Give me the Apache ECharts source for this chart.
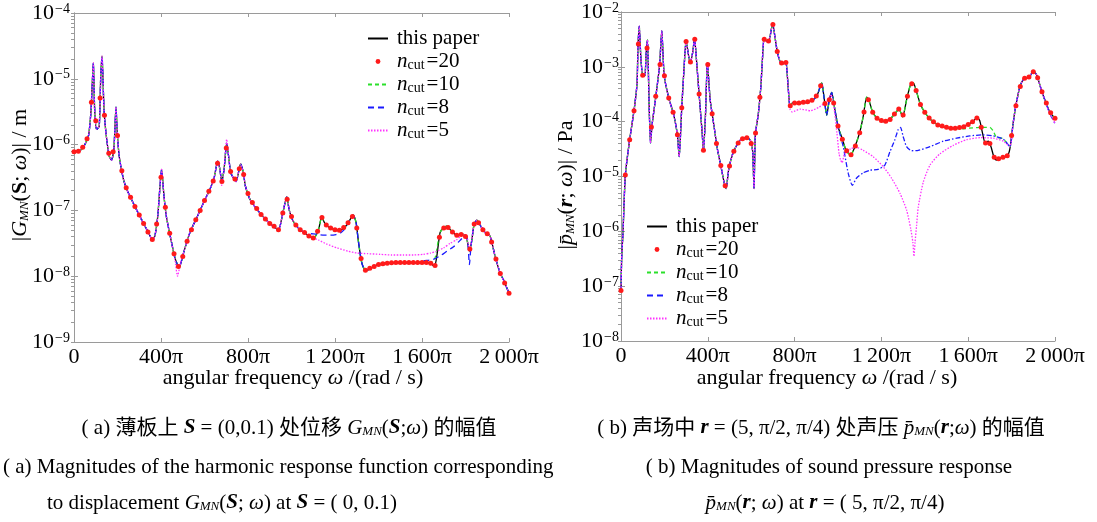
<!DOCTYPE html>
<html lang="zh">

<head>
    <meta charset="UTF-8">
    <title>G_MN and p_MN magnitudes</title>
    <style>
        html,
        body {
            margin: 0;
            padding: 0;
            background: #fff;
        }

        .box {
            width: 1097px;
            height: 522px;
        }
    </style>
</head>

<body>
    <div class="box"></div>

    <script src="https://cdn.jsdelivr.net/npm/echarts@6/dist/echarts.min.js"></script>
    <script>
        // x in units of pi (omega / pi)
        let xTicks = [0, 400, 800, 1200, 1600, 2000];
        let xTickLabels = ["0", "400π", "800π", "1\u2009200π", "1\u2009600π", "2\u2009000π"];
        let yTicksA = [1e-9, 1e-8, 1e-7, 1e-6, 1e-5, 1e-4];
        let yTicksB = [1e-8, 1e-7, 1e-6, 1e-5, 1e-4, 1e-3, 1e-2];
        let legendNames = ["this paper", "n=20", "n=10", "n=8", "n=5"];

        // (a) |G_MN(S;w)|, this paper
        let blackA = [
            [0, 7.8e-7], [27, 8.1e-7], [46, 9.5e-7], [67, 1.38e-6], [78, 3.2e-6], [83, 7.2e-6],
            [89, 1.74e-5], [95, 3.4e-6], [104, 1.7e-6], [116, 1.9e-6], [123, 1.1e-5], [129, 2.2e-5],
            [138, 3.4e-6], [147, 1.5e-6], [162, 6.6e-7], [173, 5.8e-7], [184, 9.3e-7], [193, 3.7e-6],
            [199, 1.5e-6], [208, 6.6e-7], [227, 3.0e-7], [245, 2.0e-7], [265, 1.45e-7], [303, 8.1e-8],
            [342, 4.6e-8], [360, 3.6e-8], [372, 4.1e-8], [385, 8.1e-8], [403, 4.2e-7], [414, 1.6e-7],
            [426, 7.6e-8], [449, 3.2e-8], [464, 1.9e-8], [483, 1.35e-8], [506, 2.4e-8], [533, 4.6e-8],
            [567, 8.1e-8], [602, 1.45e-7], [625, 2.1e-7], [644, 3.1e-7], [661, 5.6e-7], [671, 4.2e-7],
            [679, 2.7e-7], [690, 4.2e-7], [702, 1.05e-6], [711, 6.6e-7], [721, 3.7e-7], [745, 2.75e-7],
            [766, 5.1e-7], [779, 3.7e-7], [788, 2.35e-7], [810, 1.45e-7], [855, 9.1e-8], [901, 6.3e-8],
            [940, 5.1e-8], [960, 9.1e-8], [978, 1.6e-7], [990, 1.0e-7], [1008, 6.8e-8], [1039, 5.1e-8],
            [1070, 4.3e-8], [1103, 3.8e-8], [1124, 5.1e-8], [1139, 7.9e-8], [1154, 6.3e-8], [1185, 5.2e-8],
            [1223, 5.0e-8], [1254, 6.0e-8], [1284, 8.5e-8], [1297, 6.5e-8], [1307, 3.5e-8], [1323, 1.6e-8],
            [1341, 1.2e-8], [1361, 1.3e-8], [1407, 1.55e-8], [1484, 1.6e-8], [1576, 1.6e-8], [1637, 1.6e-8],
            [1657, 1.4e-8], [1668, 2.0e-8], [1683, 4.6e-8], [1698, 5.4e-8], [1714, 5.75e-8], [1737, 4.8e-8],
            [1760, 4.2e-8], [1790, 4.3e-8], [1805, 3.8e-8], [1818, 2.4e-8], [1829, 3.5e-8], [1839, 6.0e-8],
            [1852, 7.1e-8], [1867, 6.0e-8], [1890, 4.6e-8], [1913, 4.1e-8], [1936, 2.0e-8], [1959, 1.12e-8],
            [1974, 8.9e-9], [2000, 5.5e-9]
        ];
        // (a) n_cut = 20 markers, one every 20π from 0 to 2000π
        let dotsA = [
            7.8e-7, 7.9e-7, 9.1e-7, 1.23e-6, 4.4e-6, 2.3e-6, 5.1e-6, 2.8e-6, 7.4e-7, 7.8e-7,
            1.38e-6, 4.0e-7, 2.2e-7, 1.58e-7, 1.15e-7, 8.5e-8, 6.3e-8, 4.7e-8, 3.6e-8, 6.2e-8,
            3.2e-7, 1.12e-7, 4.5e-8, 2.2e-8, 1.4e-8, 2.0e-8, 3.4e-8, 5.1e-8, 7.2e-8, 1.0e-7,
            1.41e-7, 1.95e-7, 2.8e-7, 5.2e-7, 2.75e-7, 8.9e-7, 3.9e-7, 3.0e-7, 4.3e-7, 3.5e-7,
            1.8e-7, 1.32e-7, 1.07e-7, 8.7e-8, 7.4e-8, 6.3e-8, 5.75e-8, 5.1e-8, 9.1e-8, 1.48e-7,
            8.1e-8, 6.0e-8, 5.1e-8, 4.6e-8, 4.1e-8, 3.8e-8, 4.8e-8, 7.8e-8, 6.0e-8, 5.4e-8,
            5.1e-8, 5.0e-8, 5.5e-8, 6.5e-8, 8.1e-8, 5.4e-8, 1.86e-8, 1.23e-8, 1.32e-8, 1.41e-8,
            1.51e-8, 1.55e-8, 1.58e-8, 1.6e-8, 1.62e-8, 1.62e-8, 1.62e-8, 1.62e-8, 1.62e-8, 1.62e-8,
            1.62e-8, 1.62e-8, 1.58e-8, 1.45e-8, 3.9e-8, 5.4e-8, 5.5e-8, 4.7e-8, 4.2e-8, 4.3e-8,
            4.0e-8, 2.6e-8, 6.2e-8, 6.5e-8, 5.1e-8, 4.4e-8, 3.3e-8, 1.82e-8, 1.1e-8, 7.9e-9,
            5.5e-9
        ];
        // (a) pieces where the truncated curves leave the reference curve
        let greenA = [
            [[1637, 1.6e-8], [1660, 1.9e-8], [1675, 3.5e-8], [1683, 4.6e-8]]
        ];
        let blueA = [
            [[1039, 5.1e-8], [1070, 4.5e-8], [1100, 4.4e-8], [1124, 4.3e-8], [1150, 4.2e-8], [1177, 4.2e-8],
            [1205, 4.3e-8], [1223, 4.5e-8], [1240, 5.0e-8], [1254, 6.0e-8]],
            [[1576, 1.6e-8], [1606, 1.7e-8], [1652, 1.8e-8], [1690, 2.1e-8], [1714, 2.4e-8], [1745, 2.8e-8],
            [1775, 3.5e-8], [1800, 4.2e-8], [1810, 3.5e-8], [1818, 1.5e-8], [1825, 2.8e-8], [1839, 6.0e-8]]
        ];
        let magentaA = [
            [[449, 3.2e-8], [464, 1.8e-8], [476, 1.0e-8], [490, 1.6e-8], [506, 2.4e-8]],
            [[671, 4.2e-7], [679, 2.4e-7], [690, 4.4e-7], [702, 1.2e-6], [711, 6.6e-7]],
            [[1103, 3.8e-8], [1124, 3.55e-8], [1160, 3.1e-8], [1208, 2.7e-8], [1260, 2.4e-8], [1300, 2.25e-8],
            [1350, 2.2e-8], [1407, 2.15e-8], [1460, 2.1e-8], [1514, 2.1e-8], [1560, 2.1e-8], [1606, 2.15e-8],
            [1640, 2.25e-8], [1668, 2.4e-8], [1700, 2.7e-8], [1729, 3.15e-8], [1760, 3.6e-8], [1790, 4.3e-8],
            [1805, 3.9e-8], [1818, 2.6e-8], [1829, 3.5e-8], [1839, 6.0e-8]]
        ];

        // (b) |p_MN(r;w)|, this paper
        let blackB = [
            [0, 8.3e-8], [3, 3.2e-7], [9, 9.1e-7], [20, 1.07e-5], [40, 4.7e-5], [61, 1.7e-4], [74, 5.0e-4],
            [78, 2.2e-3], [84, 5.5e-3], [92, 1.35e-3], [101, 6.9e-4], [110, 6.9e-4], [116, 1.78e-3],
            [122, 3.1e-3], [129, 2.5e-4], [136, 4.1e-5], [144, 9.3e-5], [161, 2.95e-4], [178, 1.1e-3],
            [188, 4.5e-3], [199, 6.9e-4], [221, 2.6e-4], [242, 1.4e-4], [260, 5.75e-5], [268, 2.3e-5],
            [280, 1.8e-4], [291, 1.02e-3], [300, 2.9e-3], [319, 1.17e-3], [331, 1.9e-3], [339, 3.3e-3],
            [350, 1.02e-3], [362, 2.5e-4], [374, 6.2e-5], [380, 3.0e-5], [389, 1.23e-4], [398, 1.17e-3],
            [411, 2.5e-4], [429, 8.1e-5], [444, 3.2e-5], [461, 1.5e-5], [475, 7.9e-6], [484, 6.0e-6],
            [497, 1.4e-5], [515, 2.6e-5], [541, 4.2e-5], [564, 5.1e-5], [583, 5.1e-5], [598, 4.4e-5],
            [607, 2.8e-5], [613, 6.0e-6], [619, 5.75e-5], [633, 1.4e-4], [644, 4.1e-4], [650, 1.02e-3],
            [659, 3.2e-3], [668, 3.0e-3], [681, 2.95e-3], [687, 3.6e-3], [699, 6.2e-3], [709, 3.6e-3],
            [721, 1.82e-3], [736, 1.17e-3], [748, 1.15e-3], [760, 1.2e-3], [770, 4.4e-4], [779, 1.9e-4],
            [791, 2.2e-4], [817, 2.2e-4], [856, 2.25e-4], [886, 2.5e-4], [905, 3.1e-4], [925, 5.1e-4],
            [935, 2.9e-4], [948, 1.32e-4], [960, 2.5e-4], [971, 3.4e-4], [986, 1.62e-4], [1001, 7.9e-5],
            [1021, 4.7e-5], [1037, 3.0e-5], [1058, 2.45e-5], [1078, 3.5e-5], [1101, 6.6e-5], [1116, 1.23e-4],
            [1132, 2.8e-4], [1144, 2.35e-4], [1160, 1.48e-4], [1181, 1.15e-4], [1209, 1.0e-4], [1239, 1.1e-4],
            [1262, 1.4e-4], [1281, 1.7e-4], [1298, 1.23e-4], [1316, 2.5e-4], [1334, 4.7e-4], [1347, 5.1e-4],
            [1362, 3.5e-4], [1380, 2.05e-4], [1405, 1.38e-4], [1431, 1.05e-4], [1462, 8.7e-5], [1492, 7.9e-5],
            [1531, 7.6e-5], [1569, 7.9e-5], [1604, 9.1e-5], [1626, 1.05e-4], [1641, 1.2e-4], [1653, 1.05e-4],
            [1666, 6.2e-5], [1678, 4.1e-5], [1692, 4.4e-5], [1705, 3.5e-5], [1718, 2.3e-5], [1730, 2.0e-5],
            [1753, 2.2e-5], [1779, 2.35e-5], [1792, 3.2e-5], [1807, 9.3e-5], [1819, 1.9e-4], [1838, 4.3e-4],
            [1856, 6.0e-4], [1880, 6.5e-4], [1902, 8.3e-4], [1917, 6.9e-4], [1933, 4.3e-4], [1953, 2.5e-4],
            [1976, 1.5e-4], [2000, 1.15e-4]
        ];
        // (b) n_cut = 20 markers, one every 20π
        let dotsB = [
            8.3e-8, 1.07e-5, 4.7e-5, 1.58e-4, 2.6e-3, 7.0e-4, 2.2e-3, 8.0e-5, 2.9e-4, 1.1e-3,
            6.9e-4, 2.7e-4, 1.48e-4, 5.75e-5, 1.8e-4, 2.9e-3, 1.23e-3, 3.2e-3, 3.2e-4, 3.0e-5,
            1.1e-3, 1.4e-4, 4.0e-5, 1.58e-5, 6.8e-6, 1.55e-5, 2.9e-5, 4.1e-5, 4.9e-5, 5.1e-5,
            4.0e-5, 6.2e-5, 2.8e-4, 3.2e-3, 2.95e-3, 5.9e-3, 1.9e-3, 1.17e-3, 1.2e-3, 1.95e-4,
            2.2e-4, 2.2e-4, 2.25e-4, 2.3e-4, 2.45e-4, 2.95e-4, 4.5e-4, 2.15e-4, 2.5e-4, 2.2e-4,
            8.3e-5, 4.8e-5, 2.95e-5, 2.5e-5, 3.6e-5, 6.3e-5, 1.5e-4, 2.5e-4, 1.48e-4, 1.15e-4,
            1.05e-4, 1.02e-4, 1.1e-4, 1.38e-4, 1.7e-4, 1.32e-4, 2.9e-4, 4.9e-4, 3.7e-4, 2.05e-4,
            1.48e-4, 1.17e-4, 1.0e-4, 8.7e-5, 8.3e-5, 7.9e-5, 7.6e-5, 7.6e-5, 7.8e-5, 8.1e-5,
            8.9e-5, 1.0e-4, 1.17e-4, 7.9e-5, 4.1e-5, 4.0e-5, 2.25e-5, 2.1e-5, 2.25e-5, 2.4e-5,
            5.6e-5, 1.95e-4, 4.4e-4, 6.2e-4, 6.5e-4, 8.1e-4, 6.3e-4, 3.5e-4, 2.2e-4, 1.45e-4,
            1.15e-4
        ];
        let greenB = [
            [[1531, 7.6e-5], [1569, 7.4e-5], [1604, 7.6e-5], [1641, 7.8e-5], [1680, 7.9e-5], [1700, 7.9e-5],
            [1715, 6.8e-5], [1730, 5.2e-5], [1760, 4.9e-5], [1792, 3.5e-5], [1807, 9.3e-5]]
        ];
        let blueB = [
            [[1001, 7.9e-5], [1024, 3.5e-5], [1047, 1.15e-5], [1066, 6.9e-6], [1085, 9.3e-6], [1116, 1.17e-5],
            [1147, 1.3e-5], [1185, 1.35e-5], [1216, 1.62e-5], [1239, 2.8e-5], [1262, 4.7e-5], [1277, 7.1e-5],
            [1288, 7.9e-5], [1300, 5.4e-5], [1316, 3.5e-5], [1339, 2.95e-5], [1370, 3.0e-5], [1424, 3.5e-5],
            [1485, 4.4e-5], [1547, 5.0e-5], [1608, 5.5e-5], [1670, 5.75e-5], [1716, 5.5e-5], [1762, 4.8e-5],
            [1792, 3.5e-5], [1807, 9.3e-5]],
            [[1953, 2.5e-4], [1976, 1.4e-4], [2000, 9.3e-5]]
        ];
        let magentaB = [
            [[770, 4.4e-4], [779, 1.7e-4], [789, 1.5e-4], [827, 1.7e-4], [873, 1.58e-4], [911, 1.82e-4],
            [949, 2.35e-4], [967, 3.1e-4], [980, 2.0e-4], [995, 6.3e-5], [1005, 2.6e-5], [1012, 2.0e-5],
            [1019, 1.78e-5], [1030, 2.6e-5], [1058, 3.2e-5], [1085, 3.4e-5], [1116, 3.0e-5], [1162, 2.3e-5],
            [1209, 1.5e-5], [1247, 9.3e-6], [1286, 4.9e-6], [1316, 2.45e-6], [1335, 1.12e-6], [1345, 6.3e-7],
            [1350, 3.5e-7], [1355, 6.3e-7], [1362, 1.26e-6], [1370, 2.8e-6], [1393, 7.9e-6], [1424, 1.62e-5],
            [1470, 2.6e-5], [1531, 3.7e-5], [1593, 4.7e-5], [1654, 5.1e-5], [1716, 5.0e-5], [1762, 4.4e-5],
            [1792, 3.5e-5], [1807, 9.3e-5]],
            [[1953, 2.5e-4], [1976, 1.4e-4], [2000, 9.3e-5]]
        ];

        let serif = '"Liberation Serif", "DejaVu Serif", serif';
        let capFont = '"Liberation Serif", "Noto Sans CJK SC", serif';
        let gray = "#9a9a9a";

        // replace parts of the reference curve by the pieces read for a truncated curve
        function patch(base, pieces) {
            let out = base.slice();
            pieces.forEach(function (seg) {
                let a = seg[0][0], b = seg[seg.length - 1][0];
                out = out.filter(p => p[0] < a).concat(seg, out.filter(p => p[0] > b));
            });
            return out;
        }

        function minorTicks(decades) {
            let arr = [];
            for (let i = 0; i < decades.length - 1; i++) {
                for (let k = 1; k < 10; k++) arr.push(k * decades[i]);
            }
            arr.push(decades[decades.length - 1]);
            return arr;
        }

        let yRich = {
            b: { fontSize: 22, fontFamily: serif, color: "#000" },
            e: { fontSize: 14, fontFamily: serif, color: "#000", verticalAlign: "top", padding: [0, 0, 0, 1] }
        };
        function yLabel(v) {
            let p = Math.round(Math.log10(v));
            return "{b|10}{e|" + String(p).replace("-", "\u2212") + "}";
        }

        function xAxes(g) {
            return [{
                type: "value", gridIndex: g, min: 0, max: 2000, interval: 400,
                axisLine: { lineStyle: { color: gray } },
                axisTick: { inside: true, length: 4, lineStyle: { color: gray } },
                axisLabel: {
                    margin: 4, color: "#000", fontFamily: serif, fontSize: 22,
                    formatter: v => xTickLabels[xTicks.indexOf(v)]
                },
                splitLine: { show: false }
            }, {
                type: "value", gridIndex: g, min: 0, max: 2000, interval: 400, position: "top",
                axisLine: { show: true, lineStyle: { color: gray } },
                axisTick: { inside: true, length: 4, lineStyle: { color: gray } },
                axisLabel: { show: false },
                splitLine: { show: false }
            }];
        }

        function yAxes(g, ticks, margin) {
            return [{
                type: "log", gridIndex: g, logBase: 10, min: ticks[0], max: ticks[ticks.length - 1],
                axisLine: { show: true, lineStyle: { color: gray } },
                axisTick: { inside: true, length: 4, customValues: ticks, lineStyle: { color: gray } },
                axisLabel: { margin: margin, customValues: ticks, formatter: yLabel, rich: yRich },
                splitLine: { show: false }
            }, {
                type: "log", gridIndex: g, logBase: 10, min: ticks[0], max: ticks[ticks.length - 1], position: "right",
                axisLine: { show: true, lineStyle: { color: gray } },
                axisTick: { inside: true, length: 3, customValues: minorTicks(ticks), lineStyle: { color: gray } },
                axisLabel: { show: false },
                splitLine: { show: false }
            }];
        }

        function plotSeries(g, black, dots, green, blue, magenta, blueDash) {
            let ax = { xAxisIndex: g * 2, yAxisIndex: g * 2 };
            return [
                Object.assign({
                    name: legendNames[0], type: "line", data: black, symbol: "none", smooth: 0.2,
                    lineStyle: { color: "#000", width: 1.3 }, itemStyle: { color: "#000" }, z: 2
                }, ax),
                Object.assign({
                    name: legendNames[2], type: "line", data: patch(black, green), symbol: "none", smooth: 0.2,
                    lineStyle: { color: "#2be02b", width: 1.3, type: [4, 3] }, itemStyle: { color: "#2be02b" }, z: 3
                }, ax),
                Object.assign({
                    name: legendNames[3], type: "line", data: patch(black, blue), symbol: "none", smooth: 0.2,
                    lineStyle: { color: "#1a1aff", width: 1.3, type: blueDash }, itemStyle: { color: "#1a1aff" }, z: 4
                }, ax),
                Object.assign({
                    name: legendNames[4], type: "line", data: patch(black, magenta), symbol: "none", smooth: 0.2,
                    lineStyle: { color: "#ff33ff", width: 1.3, type: [1.5, 1.5] }, itemStyle: { color: "#ff33ff" }, z: 5
                }, ax),
                Object.assign({
                    name: legendNames[1], type: "line", data: dots.map((v, i) => [i * 20, v]),
                    symbol: "circle", symbolSize: 5, showSymbol: true, showAllSymbol: true,
                    lineStyle: { width: 0, opacity: 0 }, itemStyle: { color: "#ff1a1a" }, z: 6
                }, ax)
            ];
        }

        let legendRich = {
            i: { fontStyle: "italic", fontSize: 21, fontFamily: serif, color: "#000" },
            s: { fontSize: 14, fontFamily: serif, color: "#000", verticalAlign: "bottom", padding: [0, 2, 0, 0] },
            t: { fontSize: 21, fontFamily: serif, color: "#000" }
        };
        function legendFmt(name) {
            if (name === legendNames[0]) return "{t|" + name + "}";
            return "{i|n}{s|cut}{t|=" + name.split("=")[1] + "}";
        }
        function legendBox(left, top) {
            return {
                orient: "vertical", left: left, top: top, itemWidth: 20, itemHeight: 6, itemGap: 2,
                data: legendNames.map(n => n === legendNames[1] ? { name: n } : { name: n, itemStyle: { opacity: 0 } }),
                formatter: legendFmt, selectedMode: false,
                textStyle: { color: "#000", fontFamily: serif, fontSize: 21, rich: legendRich, padding: [0, 0, 0, 4] }
            };
        }

        let capRich = {
            i: { fontStyle: "italic", fontSize: 21, fontFamily: serif, color: "#000" },
            bi: { fontWeight: "bold", fontStyle: "italic", fontSize: 21, fontFamily: serif, color: "#000" },
            s: { fontStyle: "italic", fontSize: 13, fontFamily: serif, color: "#000", verticalAlign: "bottom" },
            t: { fontSize: 21, fontFamily: capFont, color: "#000" }
        };
        function textEl(x, y, txt, align, rich, size, rot) {
            return {
                type: "text", x: x, y: y, rotation: rot || 0,
                style: {
                    text: txt, align: align, verticalAlign: "middle", rich: rich,
                    fontSize: size, fontFamily: capFont, fill: "#000"
                }
            };
        }

        let titleRich = {
            i: { fontStyle: "italic", fontSize: 22, fontFamily: serif, color: "#000" },
            b: { fontWeight: "bold", fontSize: 22, fontFamily: serif, color: "#000" },
            bi: { fontWeight: "bold", fontStyle: "italic", fontSize: 22, fontFamily: serif, color: "#000" },
            s: { fontStyle: "italic", fontSize: 13, fontFamily: serif, color: "#000", verticalAlign: "bottom" },
            t: { fontSize: 22, fontFamily: serif, color: "#000" }
        };

        let myChart = echarts.init(document.querySelector(".box"), null, { renderer: "canvas" });
        let option = {
            animation: false,
            backgroundColor: "#fff",
            grid: [
                { left: 74, top: 13, width: 435, height: 329 },
                { left: 621, top: 12, width: 434, height: 329 }
            ],
            xAxis: xAxes(0).concat(xAxes(1)),
            yAxis: yAxes(0, yTicksA, 4).concat(yAxes(1, yTicksB, 2)),
            legend: [legendBox(362, 23), legendBox(641, 211)],
            series: plotSeries(0, blackA, dotsA, greenA, blueA, magentaA, [6, 4])
                .concat(plotSeries(1, blackB, dotsB, greenB, blueB, magentaB, [5, 2, 1.5, 2])),
            graphic: [
                textEl(293, 378, "{t|angular frequency }{i|ω}{t| /(rad / s)}", "center", titleRich, 22),
                textEl(827, 378, "{t|angular frequency }{i|ω}{t| /(rad / s)}", "center", titleRich, 22),
                textEl(20, 175, "{t||}{i|G}{s|MN}{t|(}{b|S}{t|; }{i|ω}{t|)| / m}", "center", titleRich, 22, Math.PI / 2),
                textEl(566, 185, "{t||}{i|p\u0304}{s|MN}{t|(}{bi|r}{t|; }{i|ω}{t|)| / Pa}", "center", titleRich, 22, Math.PI / 2),
                textEl(289, 428, "{t|( a) 薄板上 }{bi|S}{t| = (0,0.1) 处位移 }{i|G}{s|MN}{t|(}{bi|S}{t|;}{i|ω}{t|) 的幅值}", "center", capRich, 21),
                textEl(821, 428, "{t|( b) 声场中 }{bi|r}{t| = (5, π/2, π/4) 处声压 }{i|p\u0304}{s|MN}{t|(}{bi|r}{t|;}{i|ω}{t|) 的幅值}", "center", capRich, 21),
                textEl(3, 467, "{t|( a) Magnitudes of the harmonic response function corresponding}", "left", capRich, 21),
                textEl(47, 503, "{t|to displacement }{i|G}{s|MN}{t|(}{bi|S}{t|; }{i|ω}{t|) at }{bi|S}{t| = ( 0, 0.1)}", "left", capRich, 21),
                textEl(829, 467, "{t|( b) Magnitudes of sound pressure response}", "center", capRich, 21),
                textEl(825, 503, "{i|p\u0304}{s|MN}{t|(}{bi|r}{t|; }{i|ω}{t|) at }{bi|r}{t| = ( 5, π/2, π/4)}", "center", capRich, 21)
            ]
        };
        myChart.setOption(option);
    </script>
</body>

</html>
